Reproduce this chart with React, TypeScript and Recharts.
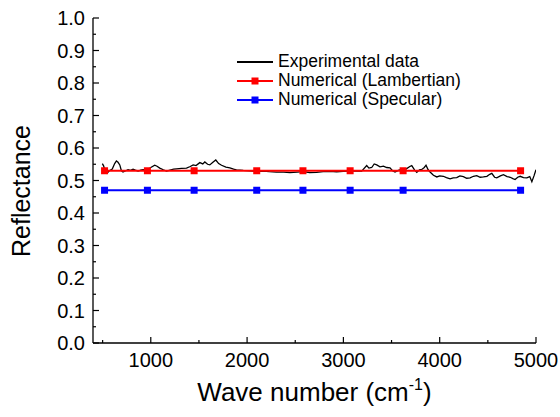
import { LineChart, Line, XAxis, YAxis, Legend } from "recharts";

const FONT = '"Liberation Sans", Arial, sans-serif';

// experimental spectrum (wave number, reflectance)
const expWave = [
  497, 510, 525, 545, 570, 600, 625, 643, 660, 678, 695, 712, 740, 764, 790, 816, 840, 868, 895, 920,
  950, 972, 1000, 1041, 1065, 1093, 1130, 1163, 1200, 1237, 1267, 1320, 1371, 1410, 1440, 1470, 1509,
  1540, 1561, 1590, 1613, 1645, 1675, 1705, 1735, 1780, 1821, 1860, 1890, 1960, 2029, 2100, 2167, 2230,
  2306, 2380, 2445, 2520, 2583, 2650, 2722, 2790, 2860, 2930, 2999, 3070, 3138, 3190, 3242, 3265, 3294,
  3320, 3346, 3380, 3415, 3450, 3484, 3510, 3536, 3570, 3606, 3650, 3690, 3710, 3740, 3762, 3790, 3814,
  3840, 3858, 3880, 3900, 3935, 3970, 4000, 4038, 4070, 4108, 4140, 4177, 4210, 4246, 4280, 4316, 4350,
  4385, 4420, 4454, 4490, 4520, 4541, 4570, 4593, 4630, 4662, 4700, 4732, 4760, 4783, 4810, 4836, 4870,
  4905, 4935, 4957, 4980, 5000,
];
const expRefl = [
  0.552, 0.545, 0.53, 0.522, 0.53, 0.535, 0.552, 0.56, 0.556, 0.548, 0.53, 0.526, 0.53, 0.533, 0.531,
  0.535, 0.532, 0.529, 0.532, 0.533, 0.531, 0.534, 0.54, 0.547, 0.544, 0.538, 0.533, 0.529, 0.532, 0.535,
  0.536, 0.537, 0.538, 0.543, 0.548, 0.546, 0.555, 0.551, 0.557, 0.55, 0.548, 0.556, 0.563, 0.552, 0.547,
  0.541, 0.539, 0.535, 0.533, 0.531, 0.53, 0.528, 0.529, 0.527, 0.526, 0.526, 0.524, 0.526, 0.527, 0.524,
  0.525, 0.527, 0.528, 0.527, 0.528, 0.529, 0.53, 0.529, 0.546, 0.538, 0.54, 0.551, 0.548, 0.542, 0.544,
  0.54, 0.539, 0.53, 0.526, 0.531, 0.534, 0.535, 0.543, 0.546, 0.532, 0.525, 0.533, 0.534, 0.54, 0.547,
  0.533, 0.526, 0.516, 0.511, 0.514, 0.513, 0.509, 0.505, 0.508, 0.509, 0.514, 0.512, 0.507, 0.508, 0.513,
  0.515, 0.51, 0.511, 0.513, 0.519, 0.522, 0.51, 0.508, 0.514, 0.518, 0.512, 0.51, 0.506, 0.503, 0.51,
  0.513, 0.509, 0.508, 0.512, 0.496, 0.515, 0.533,
];

// numerical results
const numWave = [520, 965, 1450, 2100, 2580, 3070, 3620, 4840];
const lambertian = [0.53, 0.53, 0.53, 0.53, 0.53, 0.53, 0.53, 0.53];
const specular = [0.47, 0.47, 0.47, 0.47, 0.47, 0.47, 0.47, 0.47];

const xTicks = [500, 1000, 1500, 2000, 2500, 3000, 3500, 4000, 4500, 5000];
const xMajor = [1000, 2000, 3000, 4000, 5000];
const yTicks = [
  0, 0.05, 0.1, 0.15, 0.2, 0.25, 0.3, 0.35, 0.4, 0.45, 0.5, 0.55, 0.6, 0.65, 0.7, 0.75, 0.8, 0.85, 0.9,
  0.95, 1.0,
];

const expData = expWave.map((x, i) => ({ x, r: expRefl[i] }));
const lamData = numWave.map((x, i) => ({ x, r: lambertian[i] }));
const specData = numWave.map((x, i) => ({ x, r: specular[i] }));

const markers: Record<string, boolean> = {
  "Experimental data": false,
  "Numerical (Lambertian)": true,
  "Numerical (Specular)": true,
};

const squareDot = (color: string) => (props: any) => {
  const { cx, cy, index } = props;
  if (cx == null || cy == null) return <g key={index} />;
  return <rect key={index} x={cx - 3.5} y={cy - 3.5} width={7} height={7} fill={color} />;
};

function XTick(props: any) {
  const { x, y, payload } = props;
  const major = xMajor.includes(payload.value);
  return (
    <g>
      <line x1={x} x2={x} y1={y} y2={y - (major ? 6 : 3)} stroke="#000" strokeWidth={1.2} />
      {major && (
        <text x={x} y={y + 24} textAnchor="middle" fontSize={20} fontFamily={FONT} fill="#000">
          {payload.value}
        </text>
      )}
    </g>
  );
}

function YTick(props: any) {
  const { x, y, payload, index } = props;
  const major = index % 2 === 0;
  const ax = x + 8;
  return (
    <g>
      <line x1={ax} x2={ax + (major ? 6 : 3)} y1={y} y2={y} stroke="#000" strokeWidth={1.2} />
      {major && (
        <text x={x} y={y} dy="0.36em" textAnchor="end" fontSize={20} fontFamily={FONT} fill="#000">
          {Number(payload.value).toFixed(1)}
        </text>
      )}
    </g>
  );
}

function renderLegend(props: any) {
  const { payload = [] } = props;
  return (
    <div style={{ fontFamily: FONT, fontSize: 17.5, color: "#000" }}>
      {payload.map((entry: any) => (
        <div key={entry.value} style={{ display: "flex", alignItems: "center", height: 19 }}>
          <svg width={36} height={10}>
            <line x1={0} y1={5} x2={36} y2={5} stroke={entry.color} strokeWidth={1.8} />
            {markers[entry.value] && <rect x={14.5} y={1.5} width={7} height={7} fill={entry.color} />}
          </svg>
          <span style={{ marginLeft: 5 }}>{entry.value}</span>
        </div>
      ))}
    </div>
  );
}

export default function App() {
  return (
    <div style={{ position: "absolute", left: 0, top: 0, background: "#fff" }}>
      <LineChart width={560} height={417} margin={{ top: 18, right: 24, bottom: 14, left: 33 }}>
        <XAxis
          type="number"
          dataKey="x"
          domain={[400, 5000]}
          ticks={xTicks}
          interval={0}
          allowDataOverflow
          height={60}
          tickSize={0}
          tickMargin={0}
          tickLine={false}
          axisLine={{ stroke: "#000", strokeWidth: 1.3 }}
          tick={XTick}
          label={{
            content: (p: any) => {
              const vb = p.viewBox || { x: 93, width: 443, y: 343 };
              return (
                <text
                  x={vb.x + vb.width / 2}
                  y={vb.y + 58}
                  textAnchor="middle"
                  fontSize={26}
                  fontFamily={FONT}
                  fill="#000"
                >
                  Wave number (cm
                  <tspan dy={-11} fontSize={16}>-1</tspan>
                  <tspan dy={11}>)</tspan>
                </text>
              );
            },
          }}
        />
        <YAxis
          type="number"
          domain={[0, 1]}
          ticks={yTicks}
          interval={0}
          width={60}
          tickSize={0}
          tickMargin={8}
          tickLine={false}
          axisLine={{ stroke: "#000", strokeWidth: 1.3 }}
          tick={YTick}
          label={{
            content: () => (
              <text
                x={21}
                y={191}
                transform="rotate(-90 21 191)"
                textAnchor="middle"
                dominantBaseline="central"
                fontSize={25}
                fontFamily={FONT}
                fill="#000"
              >
                Reflectance
              </text>
            ),
          }}
        />
        <Legend
          layout="vertical"
          align="center"
          verticalAlign="middle"
          content={renderLegend}
          wrapperStyle={{ left: 237, top: 52, width: "auto" }}
        />
        <Line
          data={expData}
          dataKey="r"
          name="Experimental data"
          stroke="#000"
          strokeWidth={1.3}
          dot={false}
          isAnimationActive={false}
        />
        <Line
          data={lamData}
          dataKey="r"
          name="Numerical (Lambertian)"
          stroke="#ff0000"
          strokeWidth={1.8}
          dot={squareDot("#ff0000")}
          isAnimationActive={false}
        />
        <Line
          data={specData}
          dataKey="r"
          name="Numerical (Specular)"
          stroke="#0000ff"
          strokeWidth={1.8}
          dot={squareDot("#0000ff")}
          isAnimationActive={false}
        />
      </LineChart>
    </div>
  );
}
